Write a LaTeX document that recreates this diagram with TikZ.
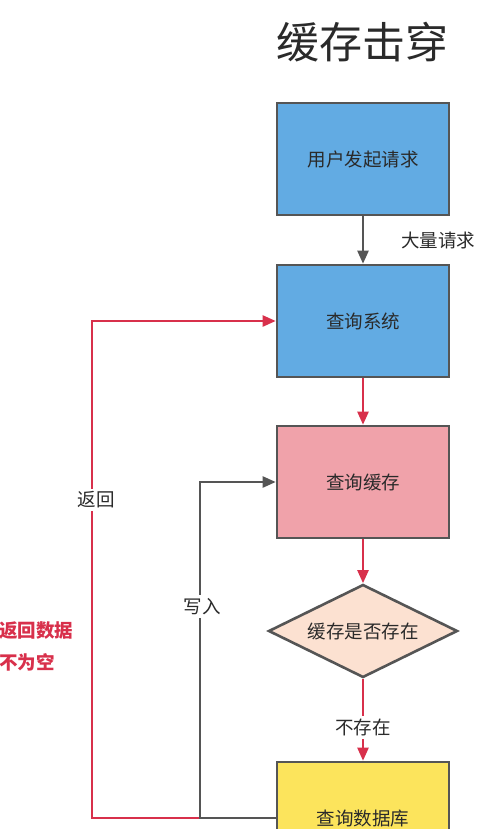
\documentclass[tikz,border=0pt]{standalone}
\usepackage{fontspec}
\newfontfamily\cjk{Noto Sans CJK SC}
\usetikzlibrary{arrows.meta,shapes.geometric}
\definecolor{boxblue}{HTML}{62ABE3}
\definecolor{boxpink}{HTML}{F0A2AA}
\definecolor{boxpeach}{HTML}{FCE1D1}
\definecolor{boxyellow}{HTML}{FCE45C}
\definecolor{edge}{HTML}{555555}
\definecolor{redline}{HTML}{D8304B}
\definecolor{txt}{HTML}{2A2A2A}
\begin{document}
\begin{tikzpicture}[x=1pt,y=-1pt,
  every node/.style={font=\cjk\fontsize{18.5}{22}\selectfont, text=txt},
  stepbox/.style={draw=edge, line width=2.6pt, minimum width=172pt, minimum height=112pt, inner sep=0pt},
  decide/.style={diamond, draw=edge, line width=2.6pt, fill=boxpeach, minimum width=189pt, minimum height=93pt, inner sep=0pt, aspect=2},
  grayarrow/.style={draw=edge, line width=2.3pt, -{Triangle[length=13pt,width=11pt]}},
  redarrow/.style={draw=redline, line width=2.3pt, -{Triangle[length=13pt,width=11pt]}},
  lbl/.style={fill=white, inner sep=3pt}
]
\useasboundingbox (0,0) rectangle (480,829);
\fill[white] (0,0) rectangle (480,829);

\node (title) at (362,42) {\fontsize{43}{47}\selectfont 缓存击穿};

\node[stepbox, fill=boxblue] (b1) at (363,159) {用户发起请求};
\node[stepbox, fill=boxblue] (b2) at (363,321) {查询系统};
\node[stepbox, fill=boxpink] (b3) at (363,482) {查询缓存};
\node[decide] (d) at (363,631) {缓存是否存在};
\node[stepbox, fill=boxyellow] (b4) at (363,818) {查询数据库};

\coordinate (rb) at (92,818);
\coordinate (rt) at (92,321);
\coordinate (gb) at (200,818);
\coordinate (gt) at (200,482);

\draw[grayarrow] (b1.south) -- (b2.north);
\node (lq) at (438,240) {大量请求};

\draw[redarrow] (b2.south) -- (b3.north);
\draw[redarrow] (b3.south) -- (d.north);
\draw[redarrow] (d.south) -- node[lbl, pos=0.6] (ln) {不存在} (b4.north);

\draw[redarrow] (b4.west) -- (rb) -- node[lbl, pos=0.64, xshift=4pt] (lr) {返回} (rt) -- (b2.west);
\draw[grayarrow] (b4.west) -- (gb) -- node[lbl, pos=0.63, xshift=2pt] (lw) {写入} (gt) -- (b3.west);

\node[anchor=west, text=redline, inner sep=0pt] (ld1) at (-1,631) {\bfseries 返回数据};
\node[anchor=west, text=redline, inner sep=0pt] (ld2) at (-1,662) {\bfseries 不为空};
\end{tikzpicture}
\end{document}
